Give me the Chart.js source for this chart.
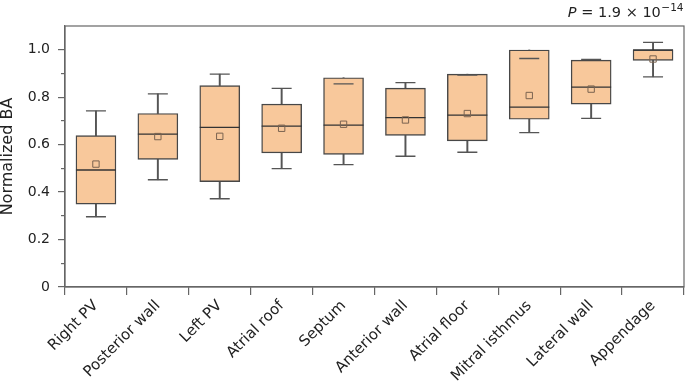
<!DOCTYPE html>
<html>
<head>
<meta charset="utf-8">
<script src="https://cdn.jsdelivr.net/npm/chart.js@4/dist/chart.umd.min.js"></script>
<style>
  html, body { margin: 0; padding: 0; background: #fff; }
  #wrap { width: 685px; height: 387px; position: relative; }
</style>
</head>
<body>
<div id="wrap"><canvas id="c"></canvas></div>
<script>
// ---- data ----
const categories = ['Right PV', 'Posterior wall', 'Left PV', 'Atrial roof', 'Septum',
  'Anterior wall', 'Atrial floor', 'Mitral isthmus', 'Lateral wall', 'Appendage'];
const whiskerLow  = [0.296, 0.452, 0.372, 0.499, 0.516, 0.551, 0.568, 0.651, 0.711, 0.886];
const q1          = [0.349, 0.538, 0.444, 0.565, 0.559, 0.639, 0.616, 0.707, 0.771, 0.955];
const median      = [0.493, 0.644, 0.673, 0.678, 0.682, 0.714, 0.724, 0.758, 0.842, 0.999];
const q3          = [0.638, 0.731, 0.849, 0.771, 0.882, 0.838, 0.897, 0.999, 0.956, 0.999];
const whiskerHigh = [0.742, 0.814, 0.897, 0.837, 0.856, 0.861, 0.893, 0.963, 0.959, 1.031];
const means       = [0.518, 0.634, 0.635, 0.669, 0.686, 0.704, 0.731, 0.807, 0.834, 0.961];
const yMajorTicks = [0, 0.2, 0.4, 0.6, 0.8, 1.0];
const yMinorTicks = [0.1, 0.3, 0.5, 0.7, 0.9];
const pText = { italic: 'P', rest: ' = 1.9 × 10', sup: '−14' };

const FONT = "'DejaVu Sans', Verdana, sans-serif";
const BOX_FILL = '#f8c89b';
const BOX_EDGE = '#474747';
const WHISK = '#555555';
const AXIS = '#666666';

const frame = {
  id: 'frame',
  afterDatasetsDraw(chart) {
    const { ctx, chartArea: a } = chart;
    ctx.save();
    ctx.strokeStyle = AXIS;
    ctx.lineWidth = 1.2;
    ctx.strokeRect(a.left, a.top, a.right - a.left, a.bottom - a.top);
    ctx.restore();
  },
  afterDraw(chart) {
    const { ctx } = chart;
    ctx.save();
    ctx.fillStyle = '#222';
    ctx.textBaseline = 'alphabetic';
    const fItal = 'italic 14.5px ' + FONT, fNorm = '14.5px ' + FONT, fSup = '10.5px ' + FONT;
    ctx.font = fSup; const wSup = ctx.measureText(pText.sup).width;
    ctx.font = fNorm; const wRest = ctx.measureText(pText.rest).width;
    ctx.font = fItal; const wP = ctx.measureText(pText.italic).width;
    let x = chart.width - 2 - wSup - wRest - wP;
    const y = 17;
    ctx.font = fItal; ctx.fillText(pText.italic, x, y); x += wP;
    ctx.font = fNorm; ctx.fillText(pText.rest, x, y); x += wRest;
    ctx.font = fSup; ctx.fillText(pText.sup, x + 0.5, y - 6);
    ctx.restore();
  }
};

new Chart(document.getElementById('c'), {
  type: 'bar',
  data: {
    labels: categories,
    datasets: [
      { label: 'upper whisker', data: categories.map((_, i) => [q3[i], whiskerHigh[i]]),
        backgroundColor: WHISK, barThickness: 1.3, grouped: false, order: 6 },
      { label: 'lower whisker', data: categories.map((_, i) => [whiskerLow[i], q1[i]]),
        backgroundColor: WHISK, barThickness: 1.3, grouped: false, order: 6 },
      { label: 'box', data: categories.map((_, i) => [q1[i], q3[i]]),
        backgroundColor: BOX_FILL, borderColor: BOX_EDGE, borderWidth: 1.4,
        borderSkipped: false, barThickness: 40, grouped: false, order: 5 },
      { type: 'line', label: 'cap high', data: whiskerHigh, showLine: false,
        pointStyle: 'line', pointRadius: 10, pointBorderColor: WHISK, pointBorderWidth: 1.3, order: 4 },
      { type: 'line', label: 'cap low', data: whiskerLow, showLine: false,
        pointStyle: 'line', pointRadius: 10, pointBorderColor: WHISK, pointBorderWidth: 1.3, order: 4 },
      { type: 'line', label: 'median', data: median, showLine: false,
        pointStyle: 'line', pointRadius: 20, pointBorderColor: '#333', pointBorderWidth: 1.3, order: 3 },
      { type: 'line', label: 'mean', data: means, showLine: false,
        pointStyle: 'rect', pointRadius: 4.5, pointBorderColor: '#7a6350',
        pointBackgroundColor: 'rgba(0,0,0,0)', pointBorderWidth: 1, order: 1 }
    ]
  },
  options: {
    responsive: true,
    maintainAspectRatio: false,
    animation: false,
    events: [],
    layout: { autoPadding: false, padding: { top: 26, right: 1, left: 0, bottom: 0 } },
    plugins: { legend: { display: false }, tooltip: { enabled: false } },
    scales: {
      x: {
        type: 'category',
        offset: true,
        grid: { display: true, drawOnChartArea: false, drawTicks: true, tickLength: 8, color: AXIS, lineWidth: 1.2 },
        border: { color: AXIS, width: 1.2 },
        ticks: { color: '#222', maxRotation: 45, minRotation: 45, autoSkip: false, padding: 2,
          font: { family: FONT, size: 15 } },
        afterFit(s) { s.height = 100; s.paddingLeft = 0; s.paddingRight = 0; }
      },
      y: {
        min: 0, max: 1.1,
        weight: 1,
        afterBuildTicks(s) { s.ticks = yMajorTicks.map(v => ({ value: v })); },
        grid: { display: true, drawOnChartArea: false, drawTicks: true, tickLength: 7, color: AXIS, lineWidth: 1.2 },
        border: { color: AXIS, width: 1.2 },
        ticks: { color: '#222', padding: 8, font: { family: FONT, size: 14 },
          callback: v => (v === 0 ? '0' : Number(v).toFixed(1)) },
        title: { display: true, text: 'Normalized BA', color: '#222',
          font: { family: FONT, size: 16, lineHeight: 1 }, padding: { top: 0, bottom: 0 } },
        afterFit(s) { s.width = 65; }
      },
      yMinor: {
        position: 'left',
        min: 0, max: 1.1,
        weight: 0,
        afterBuildTicks(s) { s.ticks = yMinorTicks.map(v => ({ value: v })); },
        grid: { display: true, drawOnChartArea: false, drawTicks: true, tickLength: 4, color: AXIS, lineWidth: 1.2 },
        border: { display: false },
        ticks: { display: false },
        afterFit(s) { s.width = 0; }
      }
    }
  },
  plugins: [frame]
});
</script>
</body>
</html>
